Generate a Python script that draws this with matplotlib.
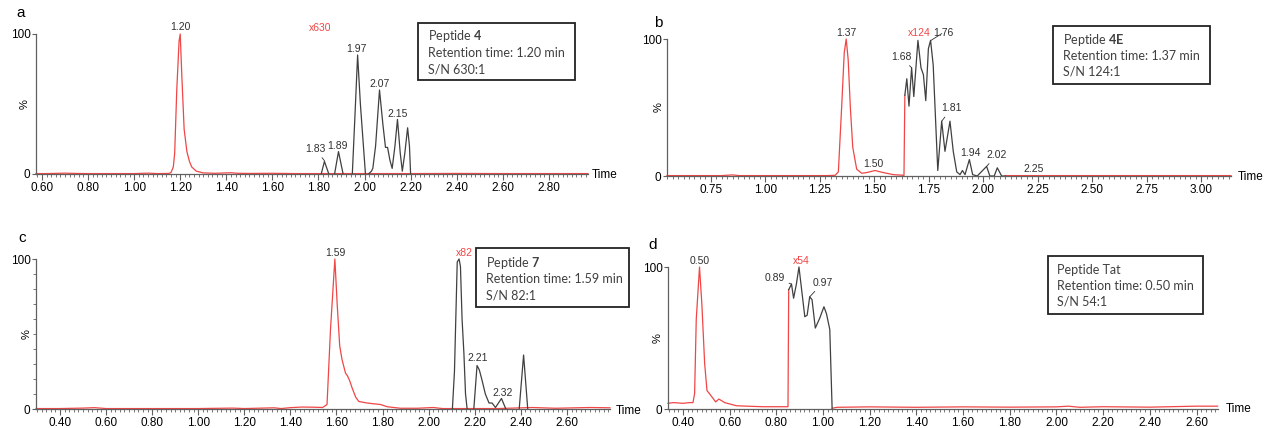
import numpy as np
import matplotlib.pyplot as plt
from matplotlib.patches import Rectangle
from matplotlib.ticker import MultipleLocator

plt.rcParams['font.family'] = ['Liberation Sans', 'DejaVu Sans']
plt.rcParams['mathtext.fontset'] = 'custom'
plt.rcParams['mathtext.rm'] = 'Lato'
plt.rcParams['mathtext.bf'] = 'Lato:bold'

nan = np.nan
RED = '#f04646'
DARK = '#404040'
W, H = 1264, 428

# ---- panel a: peptide 4 ----
a_red_t = [0.574, 0.62, 0.70, 0.75, 0.80, 0.90, 1.00, 1.06, 1.10, 1.15, 1.160, 1.170, 1.176, 1.185,
           1.195, 1.200, 1.207, 1.217, 1.229, 1.240, 1.250, 1.270, 1.300, 1.350, 1.420, 1.450, 1.500,
           1.600, 1.700, 1.800, 1.900, 2.000, 2.200, 2.400, 2.600, 2.800, 2.970]
a_red_y = [0.3, 0.3, 0.6, 0.4, 0.3, 0.3, 0.3, 0.6, 0.3, 0.4, 1, 5, 15, 60,
           95, 100, 70, 32, 16, 9, 5, 2, 0.8, 0.5, 0.9, 0.5, 0.4,
           0.5, 0.3, 0.3, 0.3, 0.3, 0.3, 0.4, 0.3, 0.3, 0.3]
a_blk_t = [1.812, 1.826, 1.845, nan, 1.870, 1.887, 1.907, nan, 1.947, 1.958, 1.970, 1.982, 2.004, nan,
           2.017, 2.030, 2.036, 2.048, 2.065, 2.080, 2.091, 2.100, 2.110, 2.120, 2.132, 2.143, 2.155,
           2.164, 2.175, 2.187, 2.195, 2.200]
a_blk_y = [0, 9, 0, nan, 0, 16, 0, nan, 0, 40, 85, 50, 0, nan,
           0, 2, 4, 20, 60, 35, 19, 19, 10, 4, 20, 39, 15,
           2, 15, 33, 20, 0]

# ---- panel b: peptide 4E ----
b_red_t = [0.549, 0.60, 0.70, 0.80, 0.85, 0.88, 1.00, 1.10, 1.20, 1.28, 1.320, 1.335, 1.350, 1.362,
           1.371, 1.380, 1.390, 1.401, 1.419, 1.442, 1.465, 1.503, 1.541, 1.587, 1.636, 1.640, nan,
           2.100, 2.200, 2.400, 2.600, 2.800, 3.000, 3.136]
b_red_y = [0.3, 0.3, 0.3, 0.3, 0.8, 0.3, 0.3, 0.3, 0.3, 0.3, 0.5, 3, 50, 90,
           100, 85, 50, 21, 5, 2, 2.5, 4, 2.5, 1, 0.5, 59, nan,
           0.3, 0.3, 0.3, 0.3, 0.3, 0.3, 0.3]
b_blk_t = [1.640, 1.649, 1.659, 1.671, 1.681, 1.700, 1.714, 1.725, 1.736, 1.748, 1.758, 1.770, 1.791,
           1.809, 1.824, 1.847, 1.862, 1.878, 1.893, 1.904, 1.916, 1.936, 1.951, 1.972, 2.015, 2.030,
           2.050, 2.064, 2.084, 2.100]
b_blk_y = [59, 71, 51, 79, 58, 99, 79, 74, 55, 93, 99, 81, 4,
           40, 18, 40, 18, 3, 1, 4, 1, 12, 1, 0, 7, 0,
           0, 6, 0, 0]

# ---- panel c: peptide 7 ----
c_red_t = [0.296, 0.40, 0.50, 0.55, 0.60, 0.80, 1.00, 1.15, 1.20, 1.33, 1.36, 1.40, 1.45, 1.50, 1.54,
           1.559, 1.574, 1.593, 1.603, 1.614, 1.624, 1.639, 1.648, 1.657, 1.668, 1.683, 1.697, 1.733,
           1.760, 1.791, 1.820, 1.878, 1.950, 2.020, 2.060, 2.100, 2.200, 2.300, 2.450, 2.550, 2.700, 2.787]
c_red_y = [0.3, 0.3, 0.6, 0.9, 0.3, 0.3, 0.3, 0.6, 0.3, 0.8, 0.3, 0.9, 1.3, 1.2, 1.0,
           3, 53, 100, 70, 42, 33, 24, 22, 19, 14, 8, 5, 4,
           3.5, 3, 1.5, 0.5, 0.5, 1, 0.3, 0.3, 0.3, 0.3, 1, 0.5, 1, 0.8]
c_blk_t = [2.103, 2.112, 2.124, 2.132, 2.138, 2.145, 2.153, 2.160, 2.167, nan,
           2.196, 2.210, 2.220, 2.232, 2.246, 2.262, 2.275, 2.290, 2.316, 2.335, nan,
           2.393, 2.412, 2.430]
c_blk_y = [0, 25, 98, 100, 95, 60, 37, 10, 0, nan,
           0, 29, 26, 19, 10, 4, 4, 1, 7, 0, nan,
           0, 36, 0]

# ---- panel d: peptide Tat ----
d_red_t = [0.336, 0.36, 0.40, 0.43, 0.443, 0.450, 0.457, 0.471, 0.481, 0.493, 0.503, 0.522, 0.540,
           0.554, 0.579, 0.629, 0.672, 0.743, 0.850, 0.853, nan,
           1.039, 1.060, 1.200, 1.400, 1.600, 1.800, 2.000, 2.050, 2.100, 2.200, 2.400, 2.600, 2.690]
d_red_y = [4, 4.5, 4, 4.5, 4.5, 11, 63, 100, 74, 32, 13, 9, 5,
           7, 4.5, 2.3, 2, 1.6, 1.6, 84, nan,
           0.5, 1.2, 1.5, 1.2, 1.5, 1.3, 1.5, 2, 1.2, 1.6, 1.3, 2, 2]
d_blk_t = [0.853, 0.865, 0.874, 0.886, 0.897, 0.907, 0.922, 0.932, 0.943, 0.953, 0.967, 0.986,
           1.004, 1.015, 1.029, 1.039]
d_blk_y = [84, 88, 78, 88, 100, 86, 65, 66, 79, 77, 57, 64,
           72, 67, 56, 0.5]

box_a = ['Peptide $\\bf{4}$', 'Retention time: 1.20 min', 'S/N 630:1']
box_b = ['Peptide $\\bf{4E}$', 'Retention time: 1.37 min', 'S/N 124:1']
box_c = ['Peptide $\\bf{7}$', 'Retention time: 1.59 min', 'S/N 82:1']
box_d = ['Peptide Tat', 'Retention time: 0.50 min', 'S/N 54:1']


def px(x, y):
    # pixel position -> figure fraction
    return x / W, 1 - y / H


def make_axes(fig, left, right, top, bottom, xlim, major, minor, ylabel_x, time_x, time_y, letter, letter_xy):
    ax = fig.add_axes([left / W, 1 - bottom / H, (right - left) / W, (bottom - top) / H])
    ax.set_xlim(*xlim)
    ax.set_ylim(0, 100)
    for s in ['top', 'right']:
        ax.spines[s].set_visible(False)
    for s in ['left', 'bottom']:
        ax.spines[s].set_color('#606060')
        ax.spines[s].set_linewidth(0.9)
    ax.set_yticks([0, 100])
    ax.set_yticklabels(['0', '100'], fontsize=8.5)
    ax.xaxis.set_major_locator(MultipleLocator(major))
    ax.xaxis.set_minor_locator(MultipleLocator(minor))
    ax.xaxis.set_major_formatter(plt.FormatStrFormatter('%.2f'))
    ax.tick_params(axis='x', which='major', length=4, width=0.8, color='#606060', labelsize=8.5, pad=1.5)
    ax.tick_params(axis='x', which='minor', length=2.5, width=0.6, color='#606060')
    ax.tick_params(axis='y', length=3, width=0.8, color='#606060', pad=1)
    mid = (top + bottom) / 2
    fig.text(*px(ylabel_x, mid), '%', rotation=90, ha='center', va='center', fontsize=8)
    fig.text(*px(time_x, time_y), 'Time', ha='left', va='center', fontsize=8.5)
    fig.text(*px(*letter_xy), letter, ha='center', va='center', fontsize=11)
    return ax


def info_box(fig, x0, y0, x1, y1, lines, tx, ty):
    fig.patches.append(Rectangle(px(x0, y1), (x1 - x0) / W, (y1 - y0) / H, transform=fig.transFigure,
                                 fill=False, edgecolor='#222222', linewidth=1.3))
    for line, yy in zip(lines, ty):
        fig.text(*px(tx, yy), line, ha='left', va='center', fontsize=9, family='Lato', color='#404040')


def peak_label(ax, text, t, y, color='#303030', tip=None):
    if tip is None:
        ax.text(t, y, text, ha='center', va='center', fontsize=7.5, color=color, clip_on=False)
    else:
        ax.annotate(text, xy=tip, xytext=(t, y), ha='center', va='center', fontsize=7.5, color=color,
                    annotation_clip=False,
                    arrowprops=dict(arrowstyle='-', color='#303030', lw=0.6, shrinkA=1, shrinkB=0))


fig = plt.figure(figsize=(W / 100, H / 100), dpi=100)

# panel a
ax = make_axes(fig, 36, 588, 34, 174, (0.574, 2.97), 0.2, 0.02, 25, 592, 175, 'a', (21, 13))
ax.plot(a_red_t, a_red_y, color=RED, lw=0.9, clip_on=False)
ax.plot(a_blk_t, a_blk_y, color=DARK, lw=0.9, clip_on=False)
peak_label(ax, '1.20', 1.20, 105)
peak_label(ax, 'x630', 1.809, 104, color=RED)
peak_label(ax, '1.83', 1.785, 18, tip=(1.826, 9.5))
peak_label(ax, '1.89', 1.881, 20)
peak_label(ax, '1.97', 1.965, 89)
peak_label(ax, '2.07', 2.065, 64)
peak_label(ax, '2.15', 2.142, 43)
info_box(fig, 418, 23, 575, 80, box_a, 428, [36, 53, 70])

# panel b
ax = make_axes(fig, 667, 1231, 39, 176, (0.549, 3.136), 0.25, 0.025, 659, 1238, 177, 'b', (658, 23))
ax.plot(b_red_t, b_red_y, color=RED, lw=0.9, clip_on=False)
ax.plot(b_blk_t, b_blk_y, color=DARK, lw=0.9, clip_on=False)
peak_label(ax, '1.37', 1.37, 104.5)
peak_label(ax, '1.50', 1.494, 8.8)
peak_label(ax, 'x124', 1.705, 104.5, color=RED)
peak_label(ax, '1.76', 1.815, 104.5, tip=(1.760, 99))
peak_label(ax, '1.68', 1.622, 87, tip=(1.671, 79))
peak_label(ax, '1.81', 1.855, 49.5, tip=(1.809, 40))
peak_label(ax, '1.94', 1.939, 16.5)
peak_label(ax, '2.02', 2.061, 15.5, tip=(2.015, 7))
peak_label(ax, '2.25', 2.232, 5)
info_box(fig, 1053, 26, 1210, 84, box_b, 1063, [40, 56, 72])

# panel c
ax = make_axes(fig, 36, 610, 259, 409, (0.296, 2.787), 0.2, 0.02, 27, 616, 411, 'c', (22, 238))
ax.yaxis.set_minor_locator(MultipleLocator(10))
ax.tick_params(axis='y', which='minor', length=2, width=0.6, color='#606060')
ax.plot(c_red_t, c_red_y, color=RED, lw=0.9, clip_on=False)
ax.plot(c_blk_t, c_blk_y, color=DARK, lw=0.9, clip_on=False)
peak_label(ax, '1.59', 1.596, 104)
peak_label(ax, 'x82', 2.153, 104, color=RED)
peak_label(ax, '2.21', 2.212, 34)
peak_label(ax, '2.32', 2.320, 11)
info_box(fig, 476, 248, 629, 307, box_c, 486, [263, 279, 296])

# panel d
ax = make_axes(fig, 668, 1218, 267, 409, (0.336, 2.692), 0.2, 0.02, 658, 1226, 409, 'd', (653, 245))
ax.plot(d_red_t, d_red_y, color=RED, lw=0.9, clip_on=False)
ax.plot(d_blk_t, d_blk_y, color=DARK, lw=0.9, clip_on=False)
peak_label(ax, '0.50', 0.472, 104)
peak_label(ax, 'x54', 0.907, 104, color=RED)
peak_label(ax, '0.89', 0.793, 92, tip=(0.865, 88))
peak_label(ax, '0.97', 1.000, 89, tip=(0.943, 79))
info_box(fig, 1048, 256, 1203, 314, box_d, 1057, [270, 286, 302])

fig.savefig('out.png', dpi=100)
